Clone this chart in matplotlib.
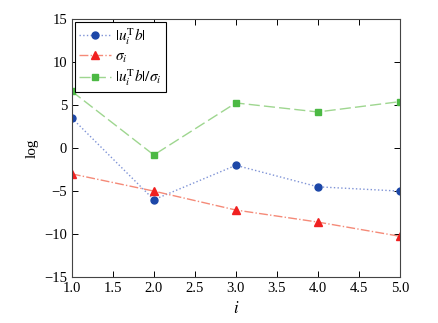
import numpy as np
import matplotlib
matplotlib.use("Agg")
import matplotlib.pyplot as plt

plt.rcParams['font.family'] = ['Liberation Serif', 'DejaVu Serif']
plt.rcParams['mathtext.fontset'] = 'stix'

## values
idx = [1, 2, 3, 4, 5]
ub = [3.5, -6.0, -2.0, -4.5, -5.0]
sigma = [-3.0, -5.0, -7.2, -8.6, -10.25]
ratio = [6.6, -0.8, 5.25, 4.2, 5.4]

fig = plt.figure(figsize=(4.38, 3.23), dpi=100)
ax = fig.add_axes([0.164, 0.142, 0.749, 0.799])

## pale lines, solid markers
ax.plot(idx, ub, color='#7f93d6', ls=':', lw=1.0, marker='o', ms=5,
        mfc='#1c47a8', mec='#1c47a8', label=r'$|u_i^{\mathrm{T}}b|$')
ax.plot(idx, sigma, color='#f58a78', ls='-.', lw=1.0, marker='^', ms=5.5,
        mfc='#f02020', mec='#f02020', label=r'$\sigma_i$')
ax.plot(idx, ratio, color='#9ed68f', ls=(0, (8, 3)), lw=1.0, marker='s', ms=4.8,
        mfc='#4cb944', mec='#4cb944', label=r'$|u_i^{\mathrm{T}}b|/\sigma_i$')

ax.set_xlim(1, 5)
ax.set_ylim(-15, 15)
ax.set_xticks(np.arange(1, 5.01, 0.5))
ax.set_yticks(np.arange(-15, 16, 5))
ax.set_xticklabels(['%.1f' % v for v in np.arange(1, 5.01, 0.5)])
ax.set_yticklabels(['\u2212%d' % -v if v < 0 else '%d' % v for v in range(-15, 16, 5)])
ax.tick_params(direction='in', top=True, right=True, labelsize=10.5, length=4, width=0.7)
for s in ax.spines.values():
    s.set_linewidth(0.8)
    s.set_color('#444444')

ax.set_xlabel(r'$i$', fontsize=12)
ax.set_ylabel('log', fontsize=11)

leg = ax.legend(loc='upper left', fontsize=11, fancybox=False, framealpha=1,
                edgecolor='black', handlelength=2.1, handletextpad=0.3,
                borderpad=0.25, labelspacing=0.2, borderaxespad=0.2)
leg.get_frame().set_linewidth(0.8)

fig.savefig('out.png', dpi=100)
